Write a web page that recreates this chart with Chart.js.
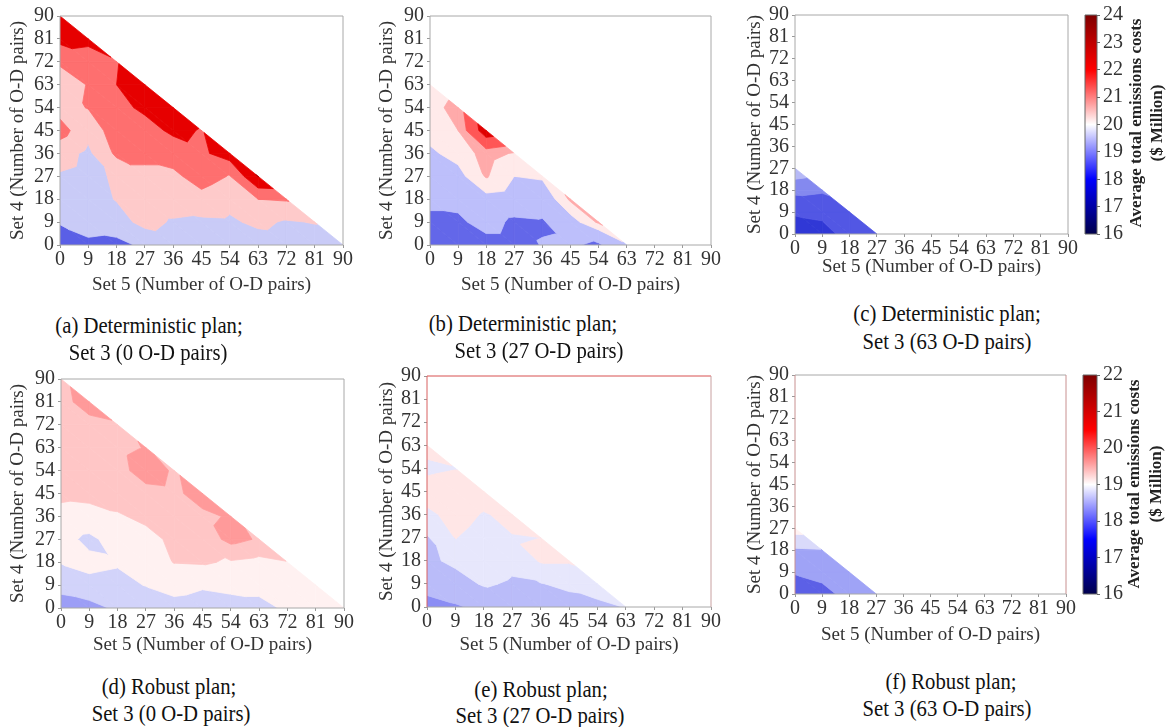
<!DOCTYPE html>
<html>
<head>
<meta charset="utf-8">
<script src="https://cdn.jsdelivr.net/npm/chart.js@4.4.1/dist/chart.umd.min.js"></script>
<style>
  body { margin: 0; background: #fff; width: 1175px; height: 727px; position: relative; overflow: hidden; }
  canvas { position: absolute; }
  .cap { position: absolute; transform: translateX(-50%) scaleX(0.9); white-space: nowrap;
         font-family: "Liberation Serif", "Times New Roman", serif; font-size: 23px; color: #111; line-height: 27px; }
</style>
</head>
<body>
<canvas id="pa" width="362" height="300"></canvas>
<canvas id="pb" width="362" height="300"></canvas>
<canvas id="pc" width="345" height="290"></canvas>
<canvas id="pd" width="362" height="300"></canvas>
<canvas id="pe" width="362" height="300"></canvas>
<canvas id="pf" width="345" height="290"></canvas>
<canvas id="cbTop" width="115" height="250"></canvas>
<canvas id="cbBottom" width="115" height="250"></canvas>

<div class="cap" style="left:149px;top:312px">(a) Deterministic plan;</div>
<div class="cap" style="left:148px;top:339px">Set 3 (0 O-D pairs)</div>
<div class="cap" style="left:523px;top:310px">(b) Deterministic plan;</div>
<div class="cap" style="left:539px;top:337px">Set 3 (27 O-D pairs)</div>
<div class="cap" style="left:947px;top:300px">(c) Deterministic plan;</div>
<div class="cap" style="left:947px;top:328px">Set 3 (63 O-D pairs)</div>
<div class="cap" style="left:169px;top:673px">(d) Robust plan;</div>
<div class="cap" style="left:171px;top:700px">Set 3 (0 O-D pairs)</div>
<div class="cap" style="left:541px;top:676px">(e) Robust plan;</div>
<div class="cap" style="left:540px;top:702px">Set 3 (27 O-D pairs)</div>
<div class="cap" style="left:951px;top:668px">(f) Robust plan;</div>
<div class="cap" style="left:947px;top:695px">Set 3 (63 O-D pairs)</div>

<script>
// tick labels shared by both axes (number of O-D pairs)
const axisTicks = [0, 9, 18, 27, 36, 45, 54, 63, 72, 81, 90];
const cbTicksTop = [16, 17, 18, 19, 20, 21, 22, 23, 24];
const cbTicksBottom = [16, 17, 18, 19, 20, 21, 22];

// average total emissions costs ($ Million)
// one row per Set 4 value (0, 9, 18 ...), inside a row Set 5 = 0, 9, 18 ...
const detSet3_0 = [
    [18.2, 18.8, 18.7, 19.2, 19.5, 19.5, 19.5, 19.5, 19.6, 19.5, 19.5],
    [19.1, 19.4, 19.6, 20.3, 19.9, 19.8, 19.85, 20.2, 19.9, 20.05],
    [19.5, 19.6, 20.05, 20.5, 20.5, 20.7, 20.3, 21.0, 21.1],
    [19.9, 19.7, 20.15, 20.8, 20.8, 21.4, 20.95, 23.05],
    [20.4, 19.8, 21.2, 21.2, 21.4, 21.8, 22.5],
    [21.4, 20.3, 21.6, 21.6, 22.2, 21.95],
    [20.6, 21.05, 21.7, 22.2, 22.5],
    [20.8, 21.02, 22.0, 22.6],
    [21.05, 21.6, 21.95],
    [22.3, 22.2],
    [22.5]
];
const detSet3_27 = [
    [18.5, 18.5, 18.6, 18.6, 19.05, 19.1, 18.85, 19.9],
    [18.8, 18.8, 19.4, 18.8, 18.9, 19.7, 20.6],
    [19.2, 19.3, 19.8, 19.7, 19.5, 20.6],
    [19.6, 19.8, 20.55, 20.0, 20.1],
    [19.9, 20.2, 20.7, 20.45],
    [20.2, 20.5, 22.2],
    [20.3, 20.7],
    [20.1]
];
const detSet3_63 = [
    [17.3, 17.5, 18.1, 18.2],
    [17.9, 18.0, 18.3],
    [18.8, 18.7],
    [19.4]
];
const robSet3_0 = [
    [18.2, 18.3, 18.6, 18.65, 18.85, 18.8, 18.85, 18.9, 19.05, 19.1, 19.15],
    [18.7, 18.9, 18.85, 19.02, 19.15, 19.05, 19.1, 19.1, 19.2, 19.25],
    [19.02, 19.1, 19.05, 19.2, 19.52, 19.55, 19.45, 19.35, 19.48],
    [19.15, 18.9, 19.2, 19.35, 19.6, 19.7, 20.15, 19.95],
    [19.35, 19.3, 19.45, 19.6, 19.75, 19.9, 20.05],
    [19.6, 19.65, 19.7, 19.85, 19.9, 20.2],
    [19.7, 19.7, 19.85, 20.2, 19.95],
    [19.75, 19.8, 19.9, 20.02],
    [19.8, 19.85, 19.95],
    [19.85, 20.2],
    [19.9]
];
const robSet3_27 = [
    [17.8, 17.95, 18.1, 18.2, 18.25, 18.3, 18.35, 18.52],
    [18.2, 18.3, 18.55, 18.45, 18.48, 18.6, 18.8],
    [18.4, 18.6, 18.75, 18.6, 19.05, 19.05],
    [18.45, 19.01, 18.85, 18.98, 19.0],
    [18.9, 19.15, 18.97, 19.1],
    [19.2, 19.3, 19.2],
    [18.9, 18.98],
    [19.15]
];
const robSet3_63 = [
    [17.6, 17.8, 18.2, 18.4],
    [18.05, 18.2, 18.45],
    [18.55, 18.58],
    [19.1]
];

// contour levels of each panel
const levelsA = [19, 20, 21, 22, 23];
const levelsB = [19, 20, 20.5, 21, 21.75];
const levelsC = [17.8, 18.6, 19.1];
const levelsD = [18.5, 19, 19.5, 20];
const levelsE = [18, 18.5, 19];
const levelsF = [18, 18.6, 18.95];

const colorsA = ['#5a5fe6', '#c9cbf7', '#fecaca', '#fe6f6f', '#e60000', '#b00000'];
const colorsB = ['#6367e9', '#bdbffb', '#ffeaea', '#ffaaaa', '#ff5656', '#e00000'];
const colorsC = ['#3038d6', '#5257e4', '#8489ef', '#b6b9f6'];
const colorsD = ['#9c9ef6', '#d2d3fa', '#fff1f1', '#ffc6c6', '#ff9a9a'];
const colorsE = ['#8b8df4', '#babcf9', '#e7e7fc', '#ffe6e6'];
const colorsF = ['#5c60e6', '#9fa3f6', '#dadafa', '#fff2f2'];

Chart.defaults.font.family = '"Liberation Serif", "Times New Roman", serif';
Chart.defaults.color = '#333';

function clipPoly(poly, level, above) {
    const out = [];
    for (let k = 0; k < poly.length; k++) {
        const a = poly[k], b = poly[(k + 1) % poly.length];
        const ina = above ? a.v >= level : a.v < level;
        const inb = above ? b.v >= level : b.v < level;
        if (ina) out.push(a);
        if (ina !== inb) {
            const t = (level - a.v) / (b.v - a.v);
            out.push({ px: a.px + t * (b.px - a.px), py: a.py + t * (b.py - a.py), v: level });
        }
    }
    return out;
}

function fillBands(ctx, tri, levels, colors) {
    colors.forEach((c, k) => {
        let poly = tri;
        if (k > 0) poly = clipPoly(poly, levels[k - 1], true);
        if (k < levels.length) poly = clipPoly(poly, levels[k], false);
        if (poly.length < 3) return;
        ctx.beginPath();
        poly.forEach((p, m) => m ? ctx.lineTo(p.px, p.py) : ctx.moveTo(p.px, p.py));
        ctx.closePath();
        ctx.fillStyle = c;
        ctx.strokeStyle = c;
        ctx.fill();
        ctx.stroke();
    });
}

// filled contours on the triangular grid, through the chart scales
const contourPlugin = {
    id: 'contour',
    beforeDatasetsDraw(chart, args, o) {
        if (!o.rows) return;
        const { ctx, chartArea, scales: { x, y } } = chart;
        const n = o.rows.length - 1;
        const pt = (i, j) => ({
            px: x.getPixelForValue(axisTicks[i]),
            py: y.getPixelForValue(axisTicks[j]),
            v: o.rows[j][i]
        });
        ctx.save();
        ctx.beginPath();
        ctx.rect(chartArea.left, chartArea.top, chartArea.width, chartArea.height);
        ctx.clip();
        ctx.lineWidth = 0.8;
        ctx.lineJoin = 'round';
        for (let j = 0; j < n; j++) {
            for (let i = 0; i + j < n; i++) {
                fillBands(ctx, [pt(i, j), pt(i + 1, j), pt(i, j + 1)], o.levels, o.colors);
                if (i + j + 1 < n) {
                    fillBands(ctx, [pt(i + 1, j), pt(i + 1, j + 1), pt(i, j + 1)], o.levels, o.colors);
                }
            }
        }
        ctx.restore();
    }
};

// seismic colour bar
const colorbarPlugin = {
    id: 'colorbar',
    beforeDatasetsDraw(chart, args, o) {
        if (!o.on) return;
        const { ctx, chartArea: a, scales: { y } } = chart;
        const g = ctx.createLinearGradient(0, y.getPixelForValue(y.min), 0, y.getPixelForValue(y.max));
        g.addColorStop(0, '#00004c');
        g.addColorStop(0.25, '#0000ff');
        g.addColorStop(0.5, '#ffffff');
        g.addColorStop(0.75, '#ff0000');
        g.addColorStop(1, '#7f0000');
        ctx.fillStyle = g;
        ctx.fillRect(a.left, a.top, a.width, a.height);
    },
    afterDraw(chart, args, o) {
        if (!o.on) return;
        const { ctx } = chart;
        ctx.save();
        ctx.fillStyle = '#222';
        ctx.font = 'bold 17px "Liberation Serif", "Times New Roman", serif';
        ctx.textAlign = 'center';
        ctx.textBaseline = 'middle';
        o.lines.forEach((t, k) => {
            ctx.save();
            ctx.translate(o.lineX[k], o.midY);
            ctx.rotate(-Math.PI / 2);
            ctx.fillText(t, 0, 0);
            ctx.restore();
        });
        ctx.restore();
    }
};

const framePlugin = {
    id: 'frame',
    afterDatasetsDraw(chart, args, o) {
        const { ctx, chartArea: a } = chart;
        const c = Object.assign({ top: '#a8a8a8', right: '#a8a8a8', bottom: '#a8a8a8', left: '#a8a8a8' }, o.colors || {});
        ctx.save();
        ctx.lineWidth = 1;
        const side = (col, x1, y1, x2, y2) => {
            ctx.strokeStyle = col;
            ctx.beginPath(); ctx.moveTo(x1, y1); ctx.lineTo(x2, y2); ctx.stroke();
        };
        side(c.top, a.left, a.top, a.right, a.top);
        side(c.right, a.right, a.top, a.right, a.bottom);
        side(c.bottom, a.left, a.bottom, a.right, a.bottom);
        side(c.left, a.left, a.top, a.left, a.bottom);
        ctx.restore();
    }
};

Chart.register(contourPlugin, colorbarPlugin, framePlugin);

const tickFont = { size: 20 };
const titleFont = { size: 19 };

function makePanel(id, g, rows, levels, colors, frameColors) {
    const el = document.getElementById(id);
    el.style.left = g.left + 'px';
    el.style.top = g.top + 'px';
    const lh = titleFont.size * 1.2;
    new Chart(el, {
        type: 'scatter',
        data: { datasets: [{ data: [] }] },
        options: {
            responsive: false,
            animation: false,
            events: [],
            layout: { padding: { left: 0, top: g.t - g.top, right: g.left + g.w - g.r, bottom: 0 } },
            plugins: {
                legend: { display: false },
                tooltip: { enabled: false },
                contour: { rows, levels, colors },
                frame: { colors: frameColors }
            },
            scales: {
                x: {
                    type: 'linear', min: 0, max: 90,
                    afterBuildTicks: s => { s.ticks = axisTicks.map(v => ({ value: v })); },
                    afterFit: s => { s.height = g.top + g.h - g.b; },
                    ticks: { autoSkip: false, maxRotation: 0, padding: 0, font: tickFont, color: '#333' },
                    grid: { drawOnChartArea: false, tickLength: 3, color: '#999' },
                    border: { display: false },
                    title: {
                        display: true, text: 'Set 5 (Number of O-D pairs)', font: titleFont, color: '#333',
                        padding: { top: 0, bottom: g.top + g.h - g.xt - lh / 2 }
                    }
                },
                y: {
                    type: 'linear', min: 0, max: 90,
                    afterBuildTicks: s => { s.ticks = axisTicks.map(v => ({ value: v })); },
                    afterFit: s => { s.width = g.l - g.left; },
                    ticks: { autoSkip: false, padding: 3, font: tickFont, color: '#333' },
                    grid: { drawOnChartArea: false, tickLength: 3, color: '#999' },
                    border: { display: false },
                    title: {
                        display: true, text: 'Set 4 (Number of O-D pairs)', font: titleFont, color: '#333',
                        padding: { top: g.yt - g.left - lh / 2, bottom: 0 }
                    }
                }
            }
        }
    });
}

function makeColorbar(id, g, ticks, lines, lineX, midY) {
    const el = document.getElementById(id);
    el.style.left = g.left + 'px';
    el.style.top = g.top + 'px';
    new Chart(el, {
        type: 'scatter',
        data: { datasets: [{ data: [] }] },
        options: {
            responsive: false,
            animation: false,
            events: [],
            layout: { padding: { left: g.l - g.left, top: g.t - g.top, right: 0, bottom: g.top + g.h - g.b } },
            plugins: {
                legend: { display: false },
                tooltip: { enabled: false },
                colorbar: { on: true, lines, lineX: lineX.map(v => v - g.left), midY: midY - g.top },
                frame: { colors: { top: '#666', right: '#666', bottom: '#666', left: '#666' } }
            },
            scales: {
                x: { display: false, min: 0, max: 1 },
                y: {
                    position: 'right',
                    min: ticks[0], max: ticks[ticks.length - 1],
                    afterBuildTicks: s => { s.ticks = ticks.map(v => ({ value: v })); },
                    afterFit: s => { s.width = g.left + g.w - g.r; },
                    ticks: { padding: 3, font: tickFont, color: '#333' },
                    grid: { drawOnChartArea: false, tickLength: 3, color: '#666' },
                    border: { display: false }
                }
            }
        }
    });
}

const cbLines = ['Average total emissions costs', '($ Million)'];

makePanel('pa', { left: 0, top: 0, w: 362, h: 300, l: 60, t: 16, r: 343, b: 245, xt: 285, yt: 18 },
    detSet3_0, levelsA, colorsA);
makePanel('pb', { left: 370, top: 0, w: 362, h: 300, l: 430, t: 16, r: 711, b: 245, xt: 285, yt: 387 },
    detSet3_27, levelsB, colorsB);
makePanel('pc', { left: 735, top: 0, w: 345, h: 290, l: 795, t: 13, r: 1068, b: 234, xt: 267, yt: 755 },
    detSet3_63, levelsC, colorsC);
makePanel('pd', { left: 0, top: 360, w: 362, h: 300, l: 61, t: 379, r: 344, b: 608, xt: 645, yt: 18 },
    robSet3_0, levelsD, colorsD);
makePanel('pe', { left: 370, top: 360, w: 362, h: 300, l: 427, t: 376, r: 711, b: 607, xt: 645, yt: 387 },
    robSet3_27, levelsE, colorsE, { top: '#d85050', left: '#d86060', right: '#c8a0a0' });
makePanel('pf', { left: 735, top: 360, w: 345, h: 290, l: 795, t: 375, r: 1066, b: 594, xt: 635, yt: 755 },
    robSet3_63, levelsF, colorsF, { left: '#c89090', right: '#c89090' });

makeColorbar('cbTop', { left: 1060, top: 0, w: 115, h: 250, l: 1085, t: 13, r: 1097, b: 234 },
    cbTicksTop, cbLines, [1137, 1158], 123);
makeColorbar('cbBottom', { left: 1060, top: 360, w: 115, h: 250, l: 1083, t: 375, r: 1097, b: 594 },
    cbTicksBottom, cbLines, [1135, 1157], 484);
</script>
</body>
</html>
